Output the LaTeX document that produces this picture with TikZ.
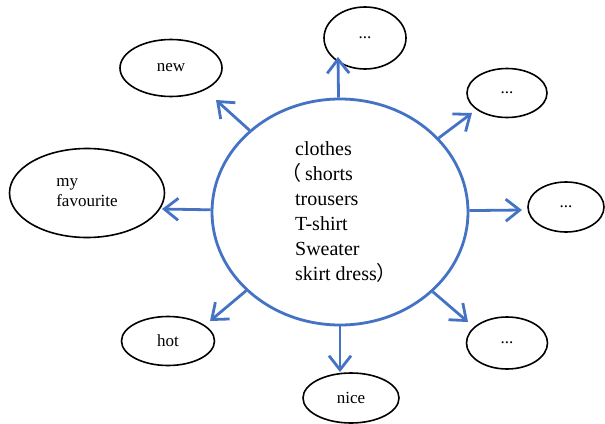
\documentclass[tikz,border=0pt]{standalone}
\usepackage{fontspec}
\setmainfont{Liberation Serif}
\newfontfamily\cjk{Noto Sans CJK SC}
\usetikzlibrary{shapes.geometric,arrows.meta}

\definecolor{hubblue}{RGB}{68,114,196}
\newcommand{\hubn}{\node[ellipse, draw=hubblue, line width=2.8pt, inner sep=0pt, align=left, font=\fontsize{20}{25}\selectfont]}
\newcommand{\lfn}{\node[ellipse, draw, line width=1.6pt, inner sep=0pt, align=left, font=\fontsize{17}{20}\selectfont]}
\newcommand{\lp}{\hspace*{-14pt}{\cjk （}\hspace{4pt}}
\newcommand{\rp}{{\cjk ）}\hspace*{-12pt}}

\begin{document}
\begin{tikzpicture}[x=1pt, y=-1pt]
            \useasboundingbox (0,0) rectangle (605,423);

            \hubn[minimum width=256pt, minimum height=226pt] (clothes) at (340,212)
                {clothes\\\lp shorts\\trousers\\T-shirt\\Sweater\\skirt dress\rp};

            \lfn[minimum width=102pt, minimum height=57pt] (new) at (171,68) {new};
            \lfn[minimum width=155pt, minimum height=89pt] (fav) at (87,193) {my\\favourite};
            \lfn[minimum width=82pt, minimum height=62pt] (up) at (365,38) {...};
            \lfn[minimum width=80pt, minimum height=49pt] (upright) at (507,93) {...};
            \lfn[minimum width=76pt, minimum height=50pt] (right) at (566,207) {...};
            \lfn[minimum width=93pt, minimum height=49pt] (hot) at (168,341) {hot};
            \lfn[minimum width=81pt, minimum height=52pt] (downright) at (507,343) {...};
            \lfn[minimum width=96pt, minimum height=50pt] (nice) at (351,398) {nice};

            \coordinate (tup) at (338,57);
            \coordinate (tnew) at (216,100);
            \coordinate (tfav) at (162,209);
            \coordinate (tupright) at (472,113);
            \coordinate (tright) at (522,210);
            \coordinate (thot) at (210,321);
            \coordinate (tdownright) at (468,322);
            \coordinate (tnice) at (340,372);

            \foreach \tip in {tup, tnew, tfav, tupright, tright, thot, tdownright, tnice}
                \draw[hubblue, line width=2.8pt, -{Straight Barb[length=14pt,width=22pt]}]
                    (clothes) -- (\tip);
\end{tikzpicture}
\end{document}
